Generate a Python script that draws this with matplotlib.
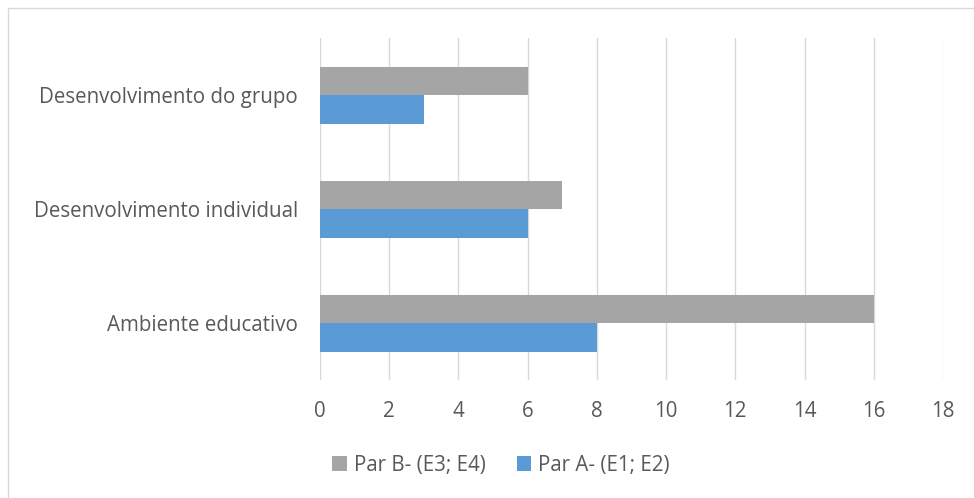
import numpy as np
import matplotlib.pyplot as plt
from matplotlib.patches import Rectangle

categorias = ['Ambiente educativo', 'Desenvolvimento individual', 'Desenvolvimento do grupo']
par_b = [16, 7, 6]
par_a = [8, 6, 3]
serie_b = 'Par B- (E3; E4)'
serie_a = 'Par A- (E1; E2)'
ticks_x = [0, 2, 4, 6, 8, 10, 12, 14, 16, 18]

plt.rcParams['font.family'] = ['Open Sans', 'DejaVu Sans']
texto = '#595959'
grade = '#D9D9D9'

fig = plt.figure(figsize=(9.74, 4.98), dpi=100)
# moldura do gráfico (só topo e esquerda visíveis na imagem)
fig.patches.append(Rectangle((8 / 974, -0.1), 1.2, 1.1 - 8 / 498,
                             transform=fig.transFigure, fill=False,
                             edgecolor=grade, linewidth=1.0))

ax = fig.add_axes([320 / 974, 1 - 380 / 498, (943 - 320) / 974, (380 - 38) / 498])

y = np.arange(len(categorias))
h = 0.25
ax.barh(y + h / 2, par_b, height=h, color='#A5A5A5', label=serie_b)
ax.barh(y - h / 2, par_a, height=h, color='#5B9BD5', label=serie_a)

ax.set_xlim(0, 18)
ax.set_ylim(-0.5, 2.5)
ax.set_xticks(ticks_x)
ax.set_yticks(y)
ax.set_yticklabels(categorias)
ax.tick_params(axis='both', length=0, labelsize=14.8, colors=texto)
ax.tick_params(axis='x', pad=15)
ax.tick_params(axis='y', pad=16)
ax.grid(axis='x', color=grade, linewidth=1)
ax.set_axisbelow(True)
for s in ax.spines.values():
    s.set_visible(False)

leg = fig.legend(loc='center', bbox_to_anchor=(501 / 974, 1 - 465 / 498), ncol=2,
                 frameon=False, fontsize=14.8, handlelength=0.7, handleheight=0.7,
                 handletextpad=0.35, columnspacing=1.5, labelcolor=texto)

fig.savefig('out.png', dpi=100)
